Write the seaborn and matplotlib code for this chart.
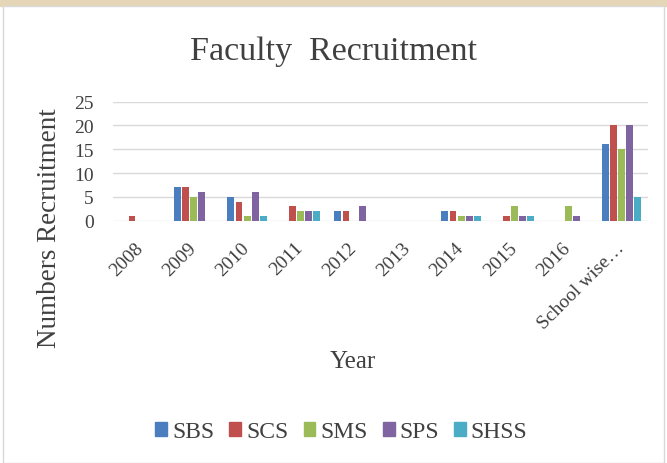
import pandas as pd
import seaborn as sns
import matplotlib.pyplot as plt
from matplotlib.patches import Rectangle
from matplotlib.transforms import ScaledTranslation

years = ['2008', '2009', '2010', '2011', '2012', '2013', '2014', '2015', '2016', 'School wise…']
schools = ['SBS', 'SCS', 'SMS', 'SPS', 'SHSS']
sbs = [0, 7, 5, 0, 2, 0, 2, 0, 0, 16]
scs = [1, 7, 4, 3, 2, 0, 2, 1, 0, 20]
sms = [0, 5, 1, 2, 0, 0, 1, 3, 3, 15]
sps = [0, 6, 6, 2, 3, 0, 1, 1, 1, 20]
shss = [0, 0, 1, 2, 0, 0, 1, 1, 0, 5]
colors = ['#4a7ebf', '#c0504d', '#9bbb59', '#8064a2', '#4bacc6']

rows = []
for school, vals in zip(schools, [sbs, scs, sms, sps, shss]):
    for y, v in zip(years, vals):
        rows.append({'Year': y, 'School': school, 'Count': v})
df = pd.DataFrame(rows)

sns.set_style('white')
plt.rcParams['font.family'] = ['Liberation Serif', 'DejaVu Serif']

fig = plt.figure(figsize=(6.67, 4.64), dpi=100)
# page background strip and frame
fig.patches.append(Rectangle((0, 0.985), 1, 0.015, transform=fig.transFigure,
                             color='#e6d6b8', zorder=-2))
fig.patches.append(Rectangle((0.004, 0), 0.992, 0.985, transform=fig.transFigure,
                             facecolor='white', edgecolor='#d9d9d9', lw=1, zorder=-1))

ax = fig.add_axes([0.170, 0.522, 0.802, 0.257])
ax.patch.set_alpha(0)
sns.barplot(data=df, x='Year', y='Count', hue='School', palette=colors,
            width=0.76, gap=0.15, ax=ax, legend=False, saturation=1, linewidth=0)

ax.set_ylim(0, 25)
ax.set_yticks([0, 5, 10, 15, 20, 25])
ax.set_xlim(-0.5, 9.5)
ax.grid(axis='y', color='#d9d9d9', lw=1)
ax.set_axisbelow(True)
sns.despine(ax=ax, left=True, bottom=True, top=True, right=True)
ax.tick_params(axis='both', length=0, labelsize=14, colors='#404040')
ax.tick_params(axis='y', pad=14)
ax.tick_params(axis='x', pad=13)
shift = ScaledTranslation(-0.06, 0, fig.dpi_scale_trans)
for lab in ax.get_xticklabels():
    lab.set_rotation(45)
    lab.set_ha('right')
    lab.set_rotation_mode('anchor')
    lab.set_transform(lab.get_transform() + shift)
ax.set_xlabel('Year', fontsize=18, color='#404040')
ax.set_ylabel('Numbers Recruitment', fontsize=19.5, color='#404040')
ax.yaxis.set_label_coords(-0.097, -0.05)
ax.xaxis.set_label_coords(0.447, -1.08)

fig.text(0.5, 0.87, 'Faculty  Recruitment', ha='center', fontsize=24.5, color='#404040')

handles = [Rectangle((0, 0), 1, 1, color=c) for c in colors]
fig.legend(handles, schools, loc='center', bbox_to_anchor=(0.512, 0.067), ncol=5,
           frameon=False, fontsize=17, handlelength=0.5, handleheight=0.5,
           handletextpad=0.2, columnspacing=0.65, labelcolor='#404040')

fig.savefig('out.png', dpi=100)
